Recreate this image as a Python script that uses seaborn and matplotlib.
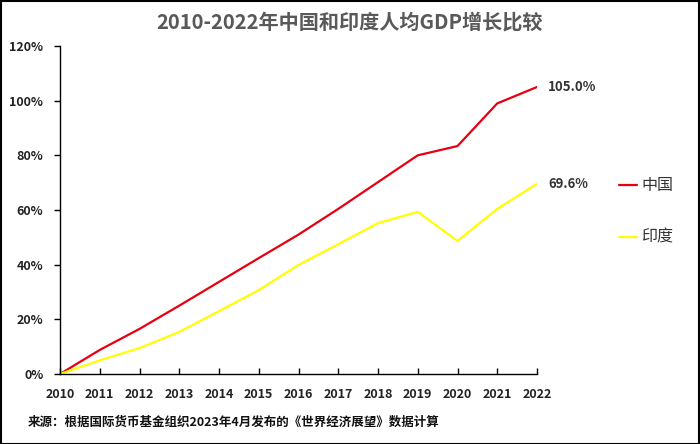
import matplotlib.pyplot as plt
import matplotlib.ticker as mtick
import pandas as pd
import seaborn as sns

years = list(range(2010, 2023))
china = [0, 8.8, 16.5, 25.0, 33.7, 42.4, 51.0, 60.4, 70.2, 80.0, 83.4, 99.0, 105.0]
india = [0, 5.0, 9.5, 15.4, 23.0, 30.7, 39.9, 47.5, 55.2, 59.3, 48.7, 60.4, 69.6]
countries = ['中国', '印度']
colors = ['#e60012', '#ffff00']

df = pd.DataFrame({
    'year': years * 2,
    'value': china + india,
    'country': [countries[0]] * len(years) + [countries[1]] * len(years),
})

sns.set_style('white')
plt.rcParams['font.family'] = ['Noto Sans CJK SC', 'DejaVu Sans']

fig = plt.figure(figsize=(7, 4.44), dpi=100)
ax = fig.add_axes([60 / 700, 1 - 374 / 444, (537 - 60) / 700, (374 - 46) / 444])

sns.lineplot(data=df, x='year', y='value', hue='country', palette=colors,
             linewidth=1.6, ax=ax, legend=False)

ax.set_xlim(2010, 2022)
ax.set_ylim(0, 120)
ax.set_xticks(years)
ax.set_yticks(range(0, 121, 20))
ax.yaxis.set_major_formatter(mtick.FuncFormatter(lambda v, p: f'{v:.0f}%'))
ax.set_xlabel('')
ax.set_ylabel('')
for s in ['top', 'right']:
    ax.spines[s].set_visible(False)
for s in ['left', 'bottom']:
    ax.spines[s].set_color('black')
    ax.spines[s].set_linewidth(1)
ax.tick_params(axis='y', left=True, direction='out', length=4, width=1, color='black',
               labelsize=9, pad=8)
ax.tick_params(axis='x', bottom=True, direction='in', length=4, width=1, color='black',
               labelsize=9, pad=10)
for lab in ax.get_xticklabels() + ax.get_yticklabels():
    lab.set_fontweight('bold')
    lab.set_color('#222222')

# end labels
ax.annotate(f'{china[-1]:.1f}%', (years[-1], china[-1]), xytext=(8, 0),
            textcoords='offset points', va='center', fontsize=9.5,
            fontweight='bold', color='#333333', annotation_clip=False)
ax.annotate(f'{india[-1]:.1f}%', (years[-1], india[-1]), xytext=(8, 0),
            textcoords='offset points', va='center', fontsize=9.5,
            fontweight='bold', color='#333333', annotation_clip=False)

# legend
for i, (name, c) in enumerate(zip(countries, colors)):
    y = 1 - (185 + 52 * i) / 444
    fig.add_artist(plt.Line2D([619 / 700, 637 / 700], [y, y], color=c, lw=1.6))
    fig.text(641 / 700, y, name, fontsize=11.5, va='center', ha='left', color='#333333')

fig.text(0.5, 1 - 22 / 444, '2010-2022年中国和印度人均GDP增长比较', ha='center', va='center',
         fontsize=14.5, fontweight='bold', color='#595959')
fig.text(28 / 700, 1 - 422 / 444, '来源：根据国际货币基金组织2023年4月发布的《世界经济展望》数据计算',
         ha='left', va='center', fontsize=9, fontweight='bold', color='#111111')

fig.add_artist(plt.Rectangle((0.001, 0.001), 0.997, 0.997, fill=False,
                             edgecolor='black', lw=1.5, transform=fig.transFigure))

fig.savefig('out.png', dpi=100)
